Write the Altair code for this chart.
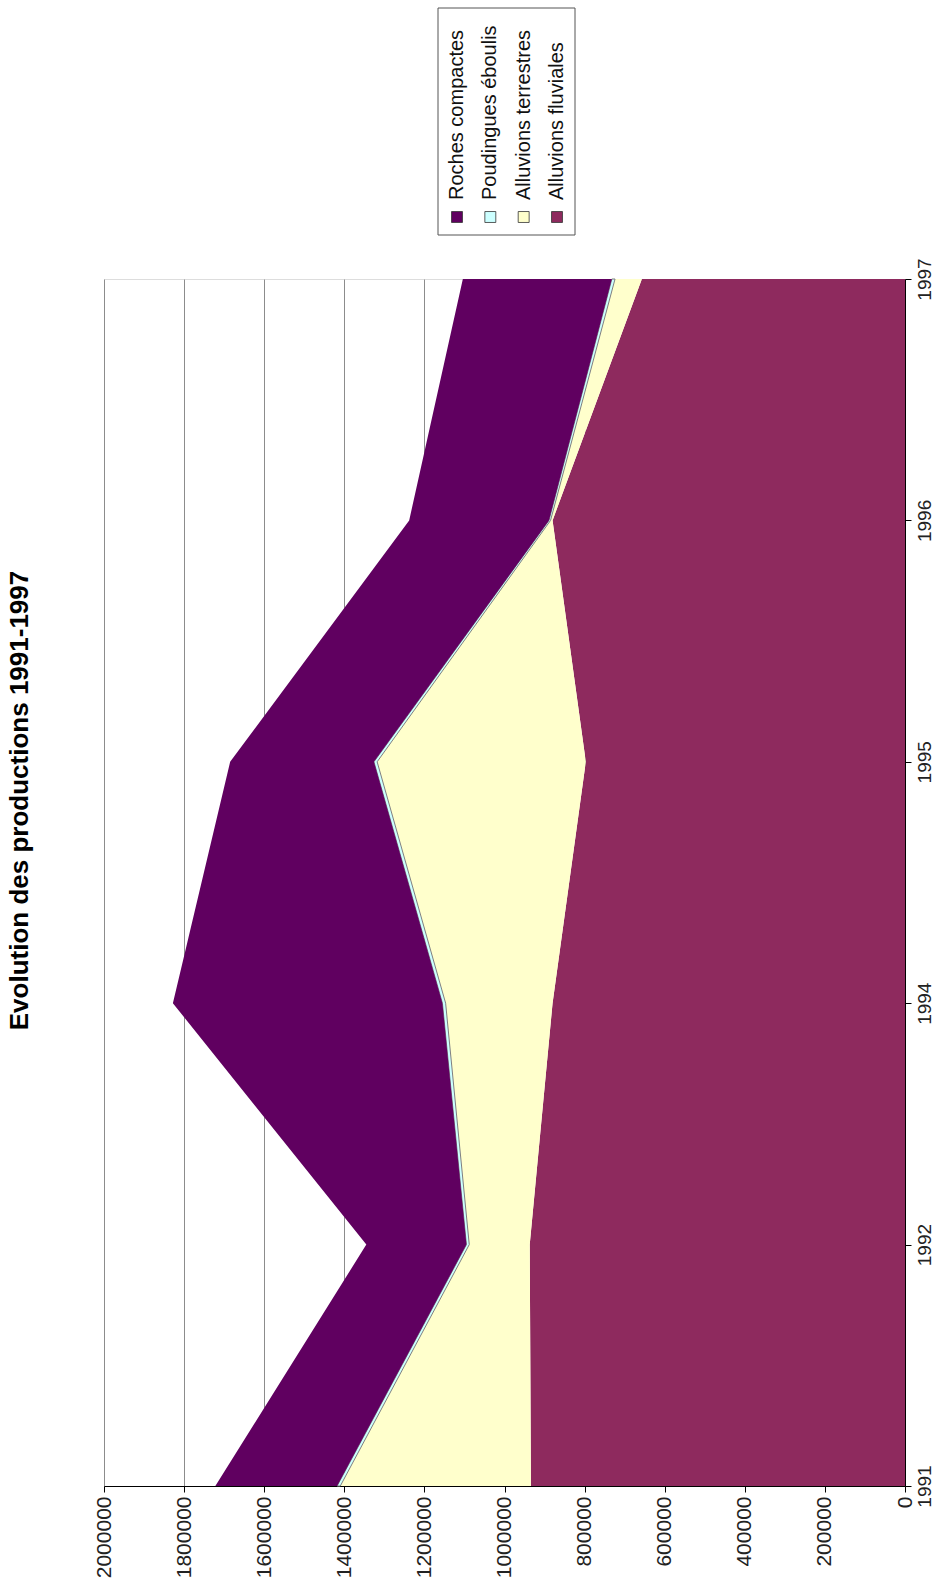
import altair as alt
import pandas as pd

years = ["1991", "1992", "1994", "1995", "1996", "1997"]
series_names = ["Alluvions fluviales", "Alluvions terrestres", "Poudingues éboulis", "Roches compactes"]
fluviales = [934000, 937000, 880000, 797000, 880000, 657000]
terrestres = [476000, 151000, 267000, 521000, 5000, 67000]
poudingues = [8000, 7000, 8000, 8000, 4000, 8000]
roches = [304000, 250000, 673000, 359000, 349000, 372000]
series_colors = ["#8E2A5E", "#FFFFCC", "#CCFFFF", "#600060"]
series_strokes = ["transparent", "transparent", "#7f7f7f", "transparent"]
legend_order = ["Roches compactes", "Poudingues éboulis", "Alluvions terrestres", "Alluvions fluviales"]
value_ticks = list(range(0, 2000001, 200000))

rows = []
for k, (name, vals) in enumerate(zip(series_names, [fluviales, terrestres, poudingues, roches])):
    for yr, v in zip(years, vals):
        rows.append({"year": yr, "serie": name, "value": v, "ord": k})
df = pd.DataFrame(rows)

FONT = "Liberation Sans"
W, H = 801, 1207

area = alt.Chart(df).mark_area(strokeWidth=1, interpolate="linear").encode(
    y=alt.Y("year:O", sort=years[::-1],
            scale=alt.Scale(type="point", padding=0),
            axis=alt.Axis(orient="right", title=None, labelAngle=270, labelAlign="center",
                          labelBaseline="top", labelPadding=4, tickSize=6, domainColor="black",
                          tickColor="black", labelFontSize=19, labelColor="#222", grid=False)),
    x=alt.X("value:Q", stack="zero",
            scale=alt.Scale(domain=[0, 2000000], reverse=True, nice=False),
            axis=alt.Axis(orient="bottom", title=None, values=value_ticks, format="d",
                          labelAngle=270, labelAlign="right", labelBaseline="middle",
                          labelPadding=4, tickSize=6, domainColor="black", tickColor="black",
                          grid=True, gridColor="#8c8c8c", labelFontSize=21, labelColor="#222")),
    color=alt.Color("serie:N", scale=alt.Scale(domain=series_names, range=series_colors), legend=None),
    stroke=alt.Stroke("serie:N", scale=alt.Scale(domain=series_names, range=series_strokes), legend=None),
    order=alt.Order("ord:Q"),
)

leg_df = pd.DataFrame({"serie": legend_order})

leg_box = alt.Chart(pd.DataFrame({"k": [0]})).mark_rect(fill="white", stroke="#555", strokeWidth=1).encode(
    x=alt.value(334), x2=alt.value(471), y=alt.value(-271), y2=alt.value(-44)
)
leg_x = alt.X("serie:N", sort=legend_order, scale=alt.Scale(type="point", range=[353, 453], padding=0), axis=None)
leg_sym = alt.Chart(leg_df).mark_square(size=120, opacity=1, stroke="#333", strokeWidth=0.8).encode(
    x=leg_x, y=alt.value(-62),
    color=alt.Color("serie:N", scale=alt.Scale(domain=series_names, range=series_colors), legend=None),
)
leg_txt = alt.Chart(leg_df).mark_text(angle=270, align="left", baseline="middle", fontSize=20,
                                      font=FONT, color="#111").encode(
    x=leg_x, y=alt.value(-79), text="serie:N"
)
legend = alt.layer(leg_box, leg_sym, leg_txt).resolve_scale(color="independent")

chart = alt.layer(area, legend).resolve_scale(x="independent", color="independent").properties(
    width=W, height=H,
    title=alt.TitleParams("Evolution des productions 1991-1997", orient="left", anchor="middle",
                          fontSize=26, font=FONT, fontWeight="bold", color="black", offset=60, dx=82),
    autosize=alt.AutoSizeParams(type="none"),
    padding={"left": 104, "top": 279, "right": 47, "bottom": 110},
    background="white",
).configure_view(stroke="#8c8c8c").configure(font=FONT)

chart.save("out.html", embed_options={"renderer": "svg", "actions": False})
